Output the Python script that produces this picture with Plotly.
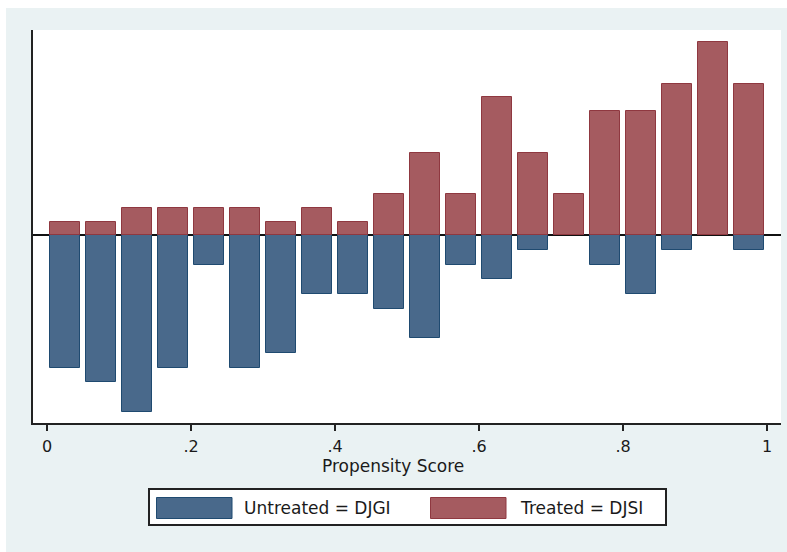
import plotly.graph_objects as go

# Propensity-score bins (midpoints of 0.05-wide bins)
bin_mid = [0.025, 0.075, 0.125, 0.175, 0.225, 0.275, 0.325, 0.375, 0.425, 0.475,
           0.525, 0.575, 0.625, 0.675, 0.725, 0.775, 0.825, 0.875, 0.925, 0.975]
bin_width = 0.05

# Firm counts per bin
treated_counts = [1, 1, 2, 2, 2, 2, 1, 2, 1, 3, 6, 3, 10, 6, 3, 9, 9, 11, 14, 11]
untreated_counts = [9, 10, 12, 9, 2, 9, 8, 4, 4, 5, 7, 2, 3, 1, 0, 2, 4, 1, 0, 1]

tick_vals = [0, 0.2, 0.4, 0.6, 0.8, 1]
tick_text = ["0", ".2", ".4", ".6", ".8", "1"]

# density histograms: treated above zero, untreated mirrored below
n_t = sum(treated_counts)
n_u = sum(untreated_counts)
treated_density = [c / (n_t * bin_width) for c in treated_counts]
untreated_density = [-c / (n_u * bin_width) for c in untreated_counts]

BLUE_FILL, BLUE_LINE = "#49698B", "#1F4A70"
RED_FILL, RED_LINE = "#A55B60", "#8F3840"
BG = "#EAF2F3"
FONT = "DejaVu Sans"
TXT = "#1a1a1a"

# plot-area geometry (pixels) used to place legend pieces in paper units
L, R, T, B = 33, 781, 30, 423
W_FIG, H_FIG = 787, 552


def px_x(p):
    return (p - L) / (R - L)


def px_y(p):
    return (B - p) / (B - T)


fig = go.Figure()
fig.add_trace(go.Bar(
    x=bin_mid, y=untreated_density, width=0.042, name="Untreated = DJGI",
    marker=dict(color=BLUE_FILL, line=dict(color=BLUE_LINE, width=1)),
    showlegend=False,
))
fig.add_trace(go.Bar(
    x=bin_mid, y=treated_density, width=0.042, name="Treated = DJSI",
    marker=dict(color=RED_FILL, line=dict(color=RED_LINE, width=1)),
    showlegend=False,
))

shapes = [
    # white strips around the light graph region
    dict(type="rect", xref="paper", yref="paper", layer="below",
         x0=px_x(0), x1=px_x(W_FIG), y0=px_y(8), y1=px_y(0),
         fillcolor="white", line=dict(width=0)),
    dict(type="rect", xref="paper", yref="paper", layer="below",
         x0=px_x(0), x1=px_x(6), y0=px_y(H_FIG), y1=px_y(0),
         fillcolor="white", line=dict(width=0)),
    # legend frame
    dict(type="rect", xref="paper", yref="paper",
         x0=px_x(149), x1=px_x(666), y0=px_y(525), y1=px_y(489),
         fillcolor="white", line=dict(color="#222222", width=2)),
    # legend swatches
    dict(type="rect", xref="paper", yref="paper",
         x0=px_x(156.5), x1=px_x(232), y0=px_y(518.5), y1=px_y(497.5),
         fillcolor=BLUE_FILL, line=dict(color=BLUE_LINE, width=1)),
    dict(type="rect", xref="paper", yref="paper",
         x0=px_x(430.5), x1=px_x(506), y0=px_y(518.5), y1=px_y(497.5),
         fillcolor=RED_FILL, line=dict(color=RED_LINE, width=1)),
]

annotations = [
    dict(text="Propensity Score", xref="paper", yref="paper",
         x=px_x(392.5), y=px_y(465.5), xanchor="center", yanchor="middle",
         showarrow=False, font=dict(family=FONT, size=17, color=TXT)),
    dict(text="Untreated = DJGI", xref="paper", yref="paper",
         x=px_x(242), y=px_y(507.5), xanchor="left", yanchor="middle",
         showarrow=False, font=dict(family=FONT, size=17, color=TXT)),
    dict(text="Treated = DJSI", xref="paper", yref="paper",
         x=px_x(518), y=px_y(507.5), xanchor="left", yanchor="middle",
         showarrow=False, font=dict(family=FONT, size=17, color=TXT)),
]

fig.update_layout(
    width=W_FIG, height=H_FIG,
    margin=dict(l=L, r=W_FIG - R, t=T, b=H_FIG - B, pad=0),
    paper_bgcolor=BG, plot_bgcolor="white",
    barmode="overlay", bargap=0,
    shapes=shapes, annotations=annotations,
    font=dict(family=FONT, size=16, color=TXT),
)
fig.update_xaxes(
    range=[-0.01944, 1.01944], tickvals=tick_vals, ticktext=tick_text,
    showgrid=False, zeroline=False,
    showline=True, linecolor="#222222", linewidth=1.5,
    ticks="outside", ticklen=6, tickwidth=1.5, tickcolor="#222222",
    ticklabelstandoff=2,
    tickfont=dict(family=FONT, size=16, color=TXT),
)
fig.update_yaxes(
    range=[-2.748, 3.006], showticklabels=False, ticks="",
    showgrid=False, zeroline=True, zerolinecolor="#111111", zerolinewidth=1.5,
    showline=True, linecolor="#222222", linewidth=1.5,
)

fig.write_html("out.html")
